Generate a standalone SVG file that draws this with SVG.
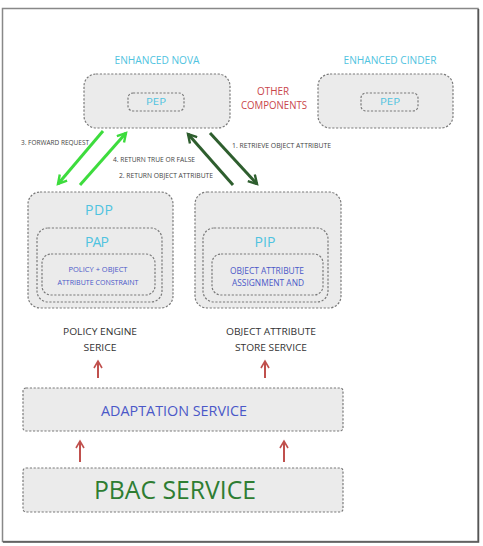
<svg xmlns="http://www.w3.org/2000/svg" width="483" height="546" viewBox="0 0 483 546">
<defs>
<style>
.box{fill:#ebebeb;stroke:#7a7a7a;stroke-width:1.2;stroke-dasharray:2.2 1.6}
.t{font-family:"Open Sans","Liberation Sans",sans-serif;text-anchor:middle}
.cyan{fill:#4fc3e0}
.blue{fill:#4a58c8}
.red{fill:#c9454a}
.dark{fill:#333}
.lbl{font-family:"Open Sans","Liberation Sans",sans-serif;font-size:6.4px;fill:#444}
.ga{stroke:#3ddc3d;stroke-width:3;fill:none}
.da{stroke:#2e5e2e;stroke-width:3;fill:none}
.ra{stroke:#c0504d;stroke-width:2;fill:none}
</style>
<marker id="mg" viewBox="0 0 10 10" refX="8" refY="5" markerWidth="4" markerHeight="4" orient="auto" markerUnits="strokeWidth"><path d="M1,1 L8,5 L1,9" fill="none" stroke="#3ddc3d" stroke-width="2"/></marker>
<marker id="md" viewBox="0 0 10 10" refX="8" refY="5" markerWidth="4" markerHeight="4" orient="auto" markerUnits="strokeWidth"><path d="M1,1 L8,5 L1,9" fill="none" stroke="#2e5e2e" stroke-width="2"/></marker>
<marker id="mr" viewBox="0 0 10 10" refX="8" refY="5" markerWidth="5" markerHeight="5" orient="auto" markerUnits="strokeWidth"><path d="M1,1 L8,5 L1,9" fill="none" stroke="#c0504d" stroke-width="1.6"/></marker>
</defs>
<rect x="0" y="0" width="483" height="546" fill="#ffffff"/>
<rect x="2.5" y="8.5" width="475.5" height="533" fill="#fff" stroke="#888" stroke-width="1.5"/>
<path d="M478.5,9 V542 H3" fill="none" stroke="#555" stroke-width="1.5"/>

<g id="enhanced-nova">
<text class="t cyan" x="157" y="64" font-size="10" textLength="85" lengthAdjust="spacingAndGlyphs">ENHANCED NOVA</text>
<rect class="box" x="84" y="74" width="146" height="54" rx="12"/>
<rect class="box" x="128" y="93" width="56" height="18" rx="5"/>
<text class="t cyan" x="156" y="105" font-size="9.5" textLength="20" lengthAdjust="spacingAndGlyphs">PEP</text>
</g>
<g id="other-components">
<text class="t red" x="273" y="95" font-size="10" textLength="32" lengthAdjust="spacingAndGlyphs">OTHER</text>
<text class="t red" x="274" y="109" font-size="10" textLength="66" lengthAdjust="spacingAndGlyphs">COMPONENTS</text>
</g>
<g id="enhanced-cinder">
<text class="t cyan" x="390" y="64" font-size="10" textLength="93" lengthAdjust="spacingAndGlyphs">ENHANCED CINDER</text>
<rect class="box" x="318" y="74" width="135" height="54" rx="12"/>
<rect class="box" x="361" y="93" width="57" height="18" rx="5"/>
<text class="t cyan" x="390" y="105" font-size="9.5" textLength="20" lengthAdjust="spacingAndGlyphs">PEP</text>
</g>

<g id="pdp">
<rect class="box" x="28" y="192" width="145" height="116" rx="12"/>
<text class="t cyan" x="99" y="215" font-size="14" textLength="28">PDP</text>
<rect class="box" x="37" y="228" width="125" height="74" rx="11"/>
<text class="t cyan" x="97" y="247" font-size="14" textLength="24">PAP</text>
<rect class="box" x="42" y="254" width="113" height="41" rx="9"/>
<text class="t blue" x="98" y="272" font-size="7.5" textLength="59" lengthAdjust="spacingAndGlyphs">POLICY + OBJECT</text>
<text class="t blue" x="98" y="285" font-size="7.5" textLength="81" lengthAdjust="spacingAndGlyphs">ATTRIBUTE CONSTRAINT</text>
</g>
<g id="pip">
<rect class="box" x="195" y="192" width="146" height="116" rx="12"/>
<rect class="box" x="203" y="228" width="125" height="74" rx="11"/>
<text class="t cyan" x="265" y="247" font-size="14" textLength="21">PIP</text>
<rect class="box" x="212" y="254" width="111" height="41" rx="9"/>
<text class="t blue" x="267" y="274" font-size="9.5" textLength="74" lengthAdjust="spacingAndGlyphs">OBJECT ATTRIBUTE</text>
<text class="t blue" x="268" y="286" font-size="9.5" textLength="72" lengthAdjust="spacingAndGlyphs">ASSIGNMENT AND</text>
</g>

<g id="policy-engine">
<text class="t dark" x="100" y="335" font-size="9.5" textLength="74" lengthAdjust="spacingAndGlyphs">POLICY ENGINE</text>
<text class="t dark" x="100" y="351" font-size="9.5" textLength="33" lengthAdjust="spacingAndGlyphs">SERICE</text>
</g>
<g id="object-attribute-store">
<text class="t dark" x="271" y="335" font-size="9.5" textLength="90" lengthAdjust="spacingAndGlyphs">OBJECT ATTRIBUTE</text>
<text class="t dark" x="271" y="351" font-size="9.5" textLength="72" lengthAdjust="spacingAndGlyphs">STORE SERVICE</text>
</g>
<g id="adaptation-service">
<rect class="box" x="23" y="388" width="320" height="43" rx="3"/>
<text class="t blue" x="174" y="416" font-size="15" textLength="146" lengthAdjust="spacingAndGlyphs">ADAPTATION SERVICE</text>
</g>
<g id="pbac-service">
<rect class="box" x="23" y="468" width="320" height="44" rx="3"/>
<text class="t" x="175" y="499" font-size="26" fill="#2e7d32" textLength="162" lengthAdjust="spacingAndGlyphs">PBAC SERVICE</text>
</g>

<g id="connectors">
<line class="ga" x1="103" y1="131" x2="58" y2="184" marker-end="url(#mg)"/>
<line class="ga" x1="80" y1="185" x2="126" y2="133" marker-end="url(#mg)"/>
<line class="da" x1="233" y1="185" x2="188" y2="134" marker-end="url(#md)"/>
<line class="da" x1="210" y1="133" x2="257" y2="184" marker-end="url(#md)"/>
<text class="lbl" x="21" y="145" textLength="68" lengthAdjust="spacingAndGlyphs">3. FORWARD REQUEST</text>
<text class="lbl" x="113" y="162" textLength="82" lengthAdjust="spacingAndGlyphs">4. RETURN TRUE OR FALSE</text>
<text class="lbl" x="119" y="178" textLength="94" lengthAdjust="spacingAndGlyphs">2. RETURN OBJECT ATTRIBUTE</text>
<text class="lbl" x="232" y="148" textLength="99" lengthAdjust="spacingAndGlyphs">1. RETRIEVE OBJECT ATTRIBUTE</text>
<line class="ra" x1="98" y1="378" x2="98" y2="361" marker-end="url(#mr)"/>
<line class="ra" x1="265" y1="378" x2="265" y2="361" marker-end="url(#mr)"/>
<line class="ra" x1="80" y1="462" x2="80" y2="441" marker-end="url(#mr)"/>
<line class="ra" x1="284" y1="462" x2="284" y2="441" marker-end="url(#mr)"/>
</g>
</svg>
